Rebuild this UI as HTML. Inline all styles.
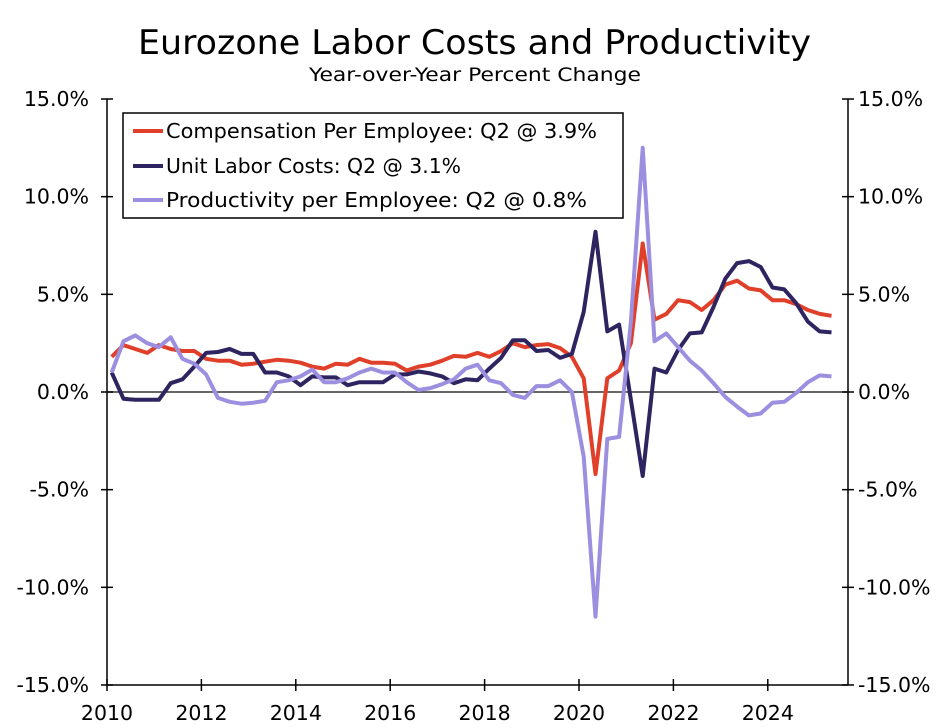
<!DOCTYPE html>
<html><head><meta charset="utf-8"><style>
body{margin:0;background:#fff}
svg{display:block;font-family:"DejaVu Sans","Liberation Sans",sans-serif}
</style></head><body>
<svg id="chart" width="950" height="728">
<text x="138" y="54" font-size="34" textLength="673" lengthAdjust="spacingAndGlyphs">Eurozone Labor Costs and Productivity</text>
<text x="309" y="81" font-size="19" textLength="332" lengthAdjust="spacingAndGlyphs">Year-over-Year Percent Change</text>
<g id="axes"></g>
<g id="series"></g>
<g>
<rect x="123" y="113" width="500" height="105" fill="#fff" stroke="#000" stroke-width="1.5"/>
<line x1="133" y1="131" x2="163" y2="131" stroke="#e0402a" stroke-width="4"/>
<text x="166" y="138" font-size="20" textLength="431" lengthAdjust="spacingAndGlyphs">Compensation Per Employee: Q2 @ 3.9%</text>
<line x1="133" y1="166" x2="163" y2="166" stroke="#2e2560" stroke-width="4"/>
<text x="166" y="173" font-size="20" textLength="295" lengthAdjust="spacingAndGlyphs">Unit Labor Costs: Q2 @ 3.1%</text>
<line x1="133" y1="200" x2="163" y2="200" stroke="#9d8fe0" stroke-width="4"/>
<text x="166" y="207" font-size="20" textLength="421" lengthAdjust="spacingAndGlyphs">Productivity per Employee: Q2 @ 0.8%</text>
</g>
</svg>
<script>
const yTicks=[15,10,5,0,-5,-10,-15];
const yTickLabels=["15.0%","10.0%","5.0%","0.0%","-5.0%","-10.0%","-15.0%"];
const xTicks=[2010,2012,2014,2016,2018,2020,2022,2024];
const startYear=2010.1;
const compensation=[1.8,2.4,2.2,2.0,2.4,2.2,2.1,2.1,1.7,1.6,1.6,1.4,1.45,1.55,1.65,1.6,1.5,1.3,1.2,1.45,1.4,1.7,1.5,1.5,1.45,1.1,1.3,1.4,1.6,1.85,1.8,2.0,1.8,2.1,2.5,2.3,2.4,2.45,2.25,1.8,0.7,-4.2,0.7,1.1,2.5,7.6,3.7,4.0,4.7,4.6,4.2,4.7,5.5,5.7,5.3,5.2,4.7,4.7,4.5,4.2,4.0,3.9];
const unitLaborCosts=[1.0,-0.35,-0.4,-0.4,-0.4,0.45,0.65,1.3,2.0,2.05,2.2,1.95,1.95,1.0,1.0,0.8,0.35,0.8,0.75,0.75,0.35,0.5,0.5,0.5,0.9,0.9,1.05,0.95,0.8,0.45,0.65,0.6,1.2,1.75,2.65,2.65,2.1,2.15,1.75,1.95,4.1,8.2,3.1,3.45,-0.4,-4.3,1.2,1.0,2.15,3.0,3.05,4.35,5.8,6.6,6.7,6.4,5.35,5.25,4.55,3.6,3.1,3.05];
const productivity=[1.0,2.6,2.9,2.5,2.3,2.8,1.7,1.45,0.9,-0.3,-0.5,-0.6,-0.55,-0.45,0.5,0.6,0.8,1.15,0.5,0.5,0.7,1.0,1.2,1.0,1.0,0.5,0.1,0.2,0.4,0.65,1.2,1.4,0.6,0.45,-0.15,-0.3,0.3,0.3,0.6,0.0,-3.3,-11.5,-2.4,-2.3,3.6,12.5,2.6,3.0,2.3,1.6,1.1,0.45,-0.25,-0.75,-1.2,-1.1,-0.55,-0.5,-0.05,0.5,0.85,0.8];

const NS="http://www.w3.org/2000/svg";
const L=107,R=848,T=99,B=685;
function yS(v){return T+(15-v)*(B-T)/30;}
function xS(t){return L+(t-2010)*47.2;}
const axes=document.getElementById('axes');
function mk(tag,attrs,parent){const e=document.createElementNS(NS,tag);for(const k in attrs)e.setAttribute(k,attrs[k]);parent.appendChild(e);return e;}
let el=mk('line',{x1:L,y1:T,x2:L,y2:B,stroke:'#000','stroke-width':1.5},axes);


el=mk('line',{x1:R,y1:T,x2:R,y2:B,stroke:'#000','stroke-width':1.5},axes);


el=mk('line',{x1:L,y1:B,x2:R,y2:B,stroke:'#000','stroke-width':1.5},axes);


el=mk('line',{x1:L,y1:yS(0),x2:R,y2:yS(0),stroke:'#333','stroke-width':1.5},axes);


yTicks.forEach((v,i)=>{
  const y=yS(v);
  let t=mk('line',{x1:L-6,y1:y,x2:L+6,y2:y,stroke:'#000','stroke-width':1.5},axes);
  
  
  t=mk('line',{x1:R-6,y1:y,x2:R+6,y2:y,stroke:'#000','stroke-width':1.5},axes);
  
  
  let tx=mk('text',{x:89,y:y+7,'font-size':20.5,'text-anchor':'end'},axes);tx.textContent=yTickLabels[i];
  
  
  tx=mk('text',{x:858,y:y+7,'font-size':20.5},axes);tx.textContent=yTickLabels[i];
  
  
});
xTicks.forEach(yr=>{
  const x=xS(yr);
  let t=mk('line',{x1:x,y1:B-6,x2:x,y2:B+6,stroke:'#000','stroke-width':1.5},axes);
  
  
  let tx=mk('text',{x:x,y:720,'font-size':20.5,'text-anchor':'middle'},axes);tx.textContent=yr;
  
  
});
const sg=document.getElementById('series');
function draw(vals,color,name){
  const pts=vals.map((v,i)=>xS(startYear+i*0.25).toFixed(1)+','+yS(v).toFixed(1)).join(' ');
  const p=mk('polyline',{points:pts,fill:'none',stroke:color,'stroke-width':4,'stroke-linejoin':'round'},sg);
  
  
}
draw(compensation,'#e0402a','compensation-line');
draw(unitLaborCosts,'#2e2560','unit-labor-costs-line');
draw(productivity,'#9d8fe0','productivity-line');
</script>
</body></html>
